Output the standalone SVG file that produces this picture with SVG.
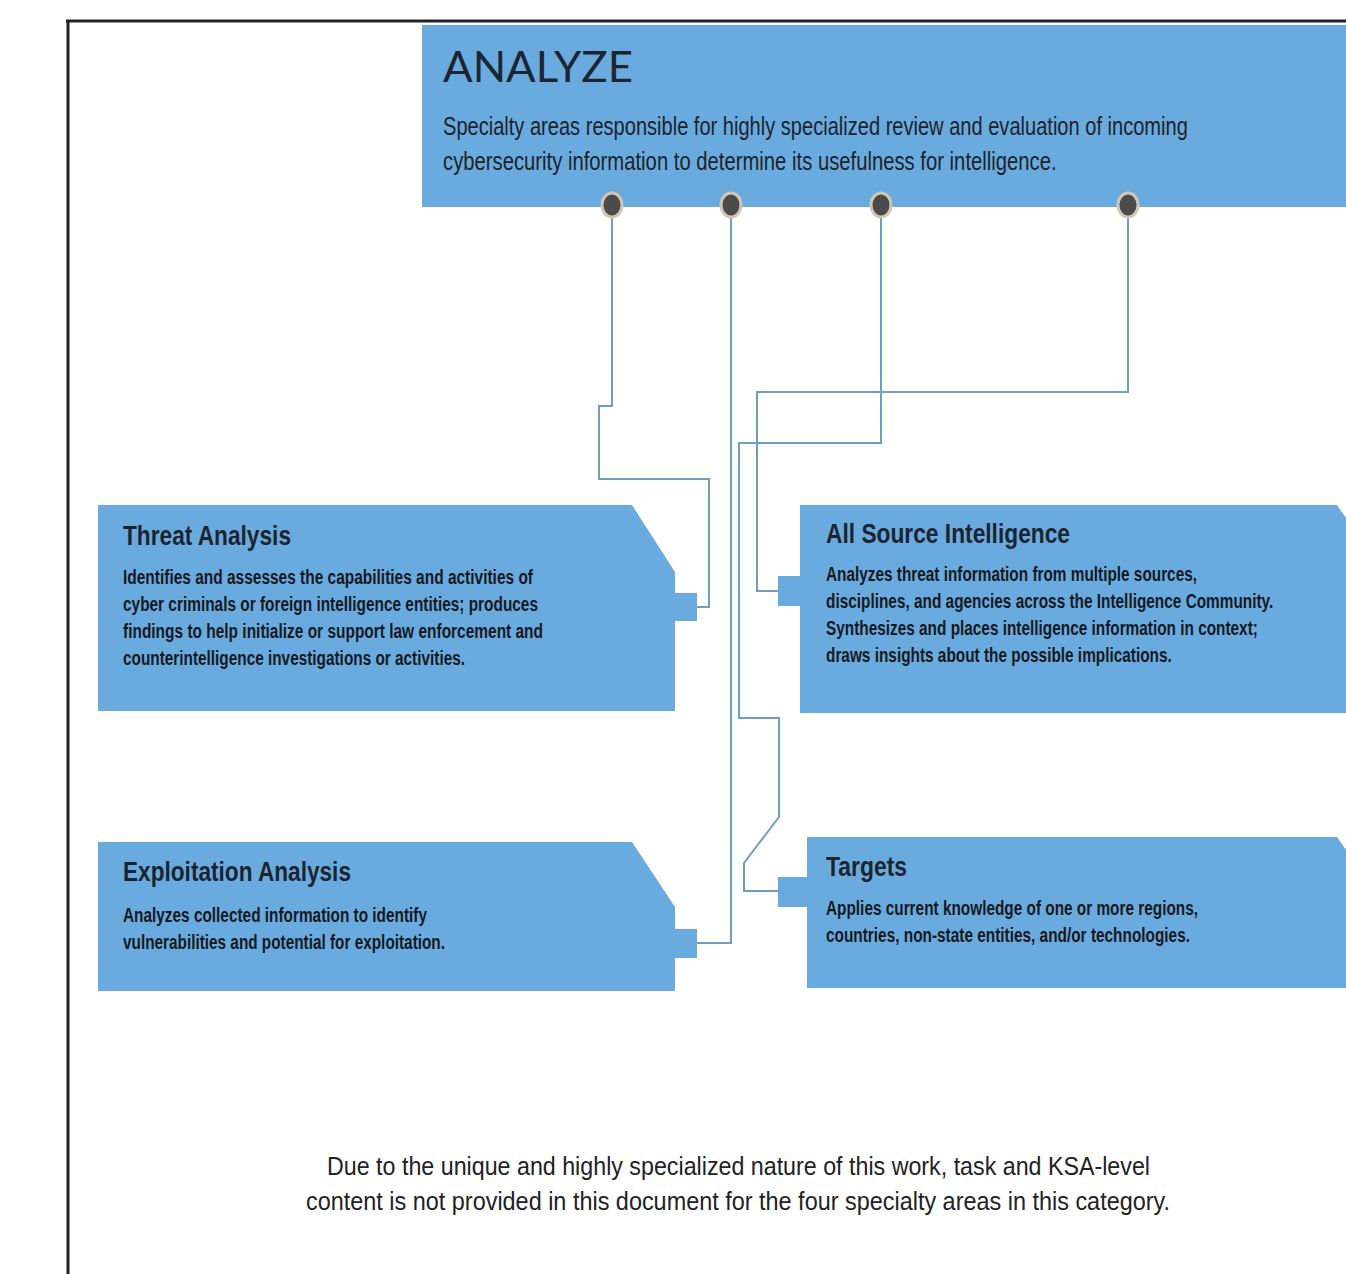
<svg xmlns="http://www.w3.org/2000/svg" width="1346" height="1274" viewBox="0 0 1346 1274">
<style>
.box{fill:#6aabdf}
.conn{fill:none;stroke:#6f9fbf;stroke-width:2}
.dot{fill:#4b4b4b;stroke:#cfc6b4;stroke-width:3}
.title{font-family:"Liberation Sans",Arial,sans-serif;font-weight:bold;font-size:27px;fill:#1c2430}
.desc{font-family:"Liberation Sans",Arial,sans-serif;font-weight:bold;font-size:20px;fill:#15191f}
.hdesc{font-family:"Liberation Sans",Arial,sans-serif;font-size:25px;fill:#1d232b}
.foot{font-family:"Liberation Sans",Arial,sans-serif;font-size:25px;fill:#222}
</style>
<rect width="1346" height="1274" fill="#ffffff"/>
<g id="frame">
<line x1="66" y1="21" x2="1346" y2="21" stroke="#1f2226" stroke-width="3"/>
<line x1="68" y1="20" x2="68" y2="1274" stroke="#1f2226" stroke-width="3"/>
</g>
<g id="connectors">
<polyline class="conn" points="612,205 612,406 599,406 599,479 709,479 709,607 697,607"/>
<polyline class="conn" points="731,205 731,943 697,943"/>
<polyline class="conn" points="881,205 881,443 739,443 739,718 779,718 779,817 744,863 744,891 779,891"/>
<polyline class="conn" points="1128,205 1128,392 757,392 757,591 779,591"/>
</g>
<g id="analyze">
<rect class="box" x="422" y="25" width="924" height="182"/>
<text x="443" y="82" font-family="Lato,'Open Sans',sans-serif" font-weight="normal" font-size="42" fill="#1c2533" textLength="190" lengthAdjust="spacingAndGlyphs">ANALYZE</text>
<g transform="translate(443,0) scale(0.8,1)">
<text class="hdesc" x="0" y="135" textLength="931" lengthAdjust="spacingAndGlyphs">Specialty areas responsible for highly specialized review and evaluation of incoming</text>
<text class="hdesc" x="0" y="170" textLength="767" lengthAdjust="spacingAndGlyphs">cybersecurity information to determine its usefulness for intelligence.</text>
</g>
<ellipse class="dot" cx="612" cy="205" rx="10" ry="12"/>
<ellipse class="dot" cx="731" cy="205" rx="10" ry="12"/>
<ellipse class="dot" cx="881" cy="205" rx="10" ry="12"/>
<ellipse class="dot" cx="1128" cy="205" rx="10" ry="12"/>
</g>
<g id="threat-analysis">
<polygon class="box" points="98,505 632,505 675,572 675,711 98,711"/>
<rect class="box" x="674" y="593" width="23" height="28"/>
<text class="title" x="123" y="545" textLength="168" lengthAdjust="spacingAndGlyphs">Threat Analysis</text>
<text class="desc" x="123" y="584" textLength="410" lengthAdjust="spacingAndGlyphs">Identifies and assesses the capabilities and activities of</text>
<text class="desc" x="123" y="611" textLength="415" lengthAdjust="spacingAndGlyphs">cyber criminals or foreign intelligence entities; produces</text>
<text class="desc" x="123" y="638" textLength="420" lengthAdjust="spacingAndGlyphs">findings to help initialize or support law enforcement and</text>
<text class="desc" x="123" y="665" textLength="342" lengthAdjust="spacingAndGlyphs">counterintelligence investigations or activities.</text>
</g>
<g id="all-source-intelligence">
<polygon class="box" points="800,505 1337,505 1346,518 1346,713 800,713"/>
<rect class="box" x="778" y="576" width="23" height="30"/>
<text class="title" x="826" y="543" textLength="244" lengthAdjust="spacingAndGlyphs">All Source Intelligence</text>
<g transform="translate(826,0) scale(0.7,1)">
<text class="desc" x="0" y="581" textLength="530" lengthAdjust="spacingAndGlyphs">Analyzes threat information from multiple sources,</text>
<text class="desc" x="0" y="608" textLength="639" lengthAdjust="spacingAndGlyphs">disciplines, and agencies across the Intelligence Community.</text>
<text class="desc" x="0" y="635" textLength="617" lengthAdjust="spacingAndGlyphs">Synthesizes and places intelligence information in context;</text>
<text class="desc" x="0" y="662" textLength="494" lengthAdjust="spacingAndGlyphs">draws insights about the possible implications.</text>
</g>
</g>
<g id="exploitation-analysis">
<polygon class="box" points="98,842 632,842 675,907 675,991 98,991"/>
<rect class="box" x="674" y="929" width="23" height="29"/>
<text class="title" x="123" y="881" textLength="228" lengthAdjust="spacingAndGlyphs">Exploitation Analysis</text>
<text class="desc" x="123" y="922" textLength="304" lengthAdjust="spacingAndGlyphs">Analyzes collected information to identify</text>
<text class="desc" x="123" y="949" textLength="322" lengthAdjust="spacingAndGlyphs">vulnerabilities and potential for exploitation.</text>
</g>
<g id="targets">
<polygon class="box" points="807,837 1337,837 1346,850 1346,988 807,988"/>
<rect class="box" x="778" y="877" width="30" height="30"/>
<text class="title" x="826" y="876" textLength="81" lengthAdjust="spacingAndGlyphs">Targets</text>
<text class="desc" x="826" y="915" textLength="372" lengthAdjust="spacingAndGlyphs">Applies current knowledge of one or more regions,</text>
<text class="desc" x="826" y="942" textLength="364" lengthAdjust="spacingAndGlyphs">countries, non-state entities, and/or technologies.</text>
</g>
<g id="footnote">
<text class="foot" x="327" y="1175" textLength="823" lengthAdjust="spacingAndGlyphs">Due to the unique and highly specialized nature of this work, task and KSA-level</text>
<text class="foot" x="306" y="1210" textLength="864" lengthAdjust="spacingAndGlyphs">content is not provided in this document for the four specialty areas in this category.</text>
</g>
</svg>
